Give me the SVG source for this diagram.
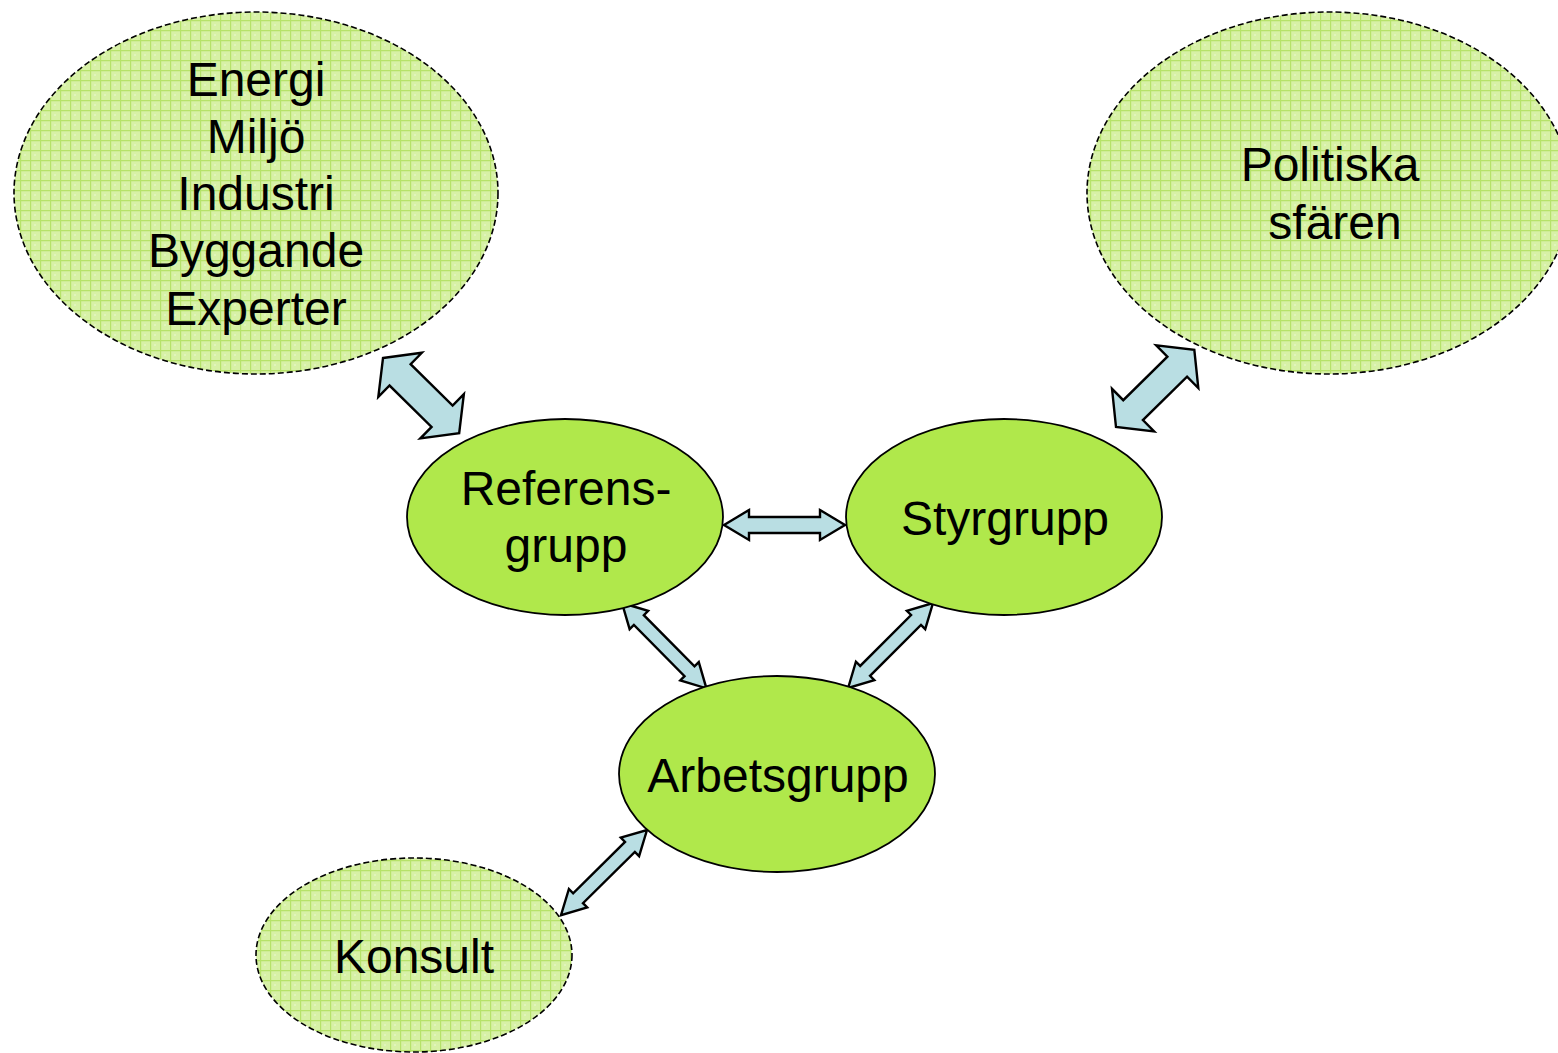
<svg xmlns="http://www.w3.org/2000/svg" width="1558" height="1053" viewBox="0 0 1558 1053">
<defs>
<pattern id="grid" width="10" height="10" patternUnits="userSpaceOnUse">
<rect width="10" height="10" fill="#d7f1a6"/>
<path d="M0 0.5H10M0.5 0V10" stroke="#b6e26a" stroke-width="1.4"/>
<circle cx="5" cy="5" r="1" fill="#e4f6c2"/>
</pattern>
<style>
.soft{fill:url(#grid);stroke:#000;stroke-width:1.6;stroke-dasharray:6 3}
.solid{fill:#b0e84b;stroke:#000;stroke-width:1.8}
.lbl{font-family:"Liberation Sans",Arial,sans-serif;font-size:48px;fill:#000;text-anchor:middle}
.arr{fill:#b9dee3;stroke:#000;stroke-width:2.4;stroke-linejoin:miter}
</style>
</defs>
<rect width="1558" height="1053" fill="#fff"/>
<g id="connectors">
<polygon class="arr" transform="translate(383,358) rotate(44.6)" points="0,0 24,-31 24,-15 83,-15 83,-31 107,0 83,31 83,15 24,15 24,31"/>
<polygon class="arr" transform="translate(1116,427) rotate(-44.6)" points="0,0 24,-30 24,-14 86,-14 86,-30 110,0 86,30 86,14 24,14 24,30"/>
<polygon class="arr" transform="translate(724,525)" points="0,0 25,-15 25,-8 96,-8 96,-15 121,0 96,15 96,8 25,8 25,15"/>
<polygon class="arr" transform="translate(622,603) rotate(45.3)" points="0,0 24,-13 24,-7 96,-7 96,-13 120,0 96,13 96,7 24,7 24,13"/>
<polygon class="arr" transform="translate(933,603) rotate(135)" points="0,0 24,-13 24,-7 96,-7 96,-13 120,0 96,13 96,7 24,7 24,13"/>
<polygon class="arr" transform="translate(647,830) rotate(135.3)" points="0,0 24,-13 24,-7 97,-7 97,-13 121,0 97,13 97,7 24,7 24,13"/>
</g>
<g id="experter">
<ellipse class="soft" cx="256" cy="193" rx="242" ry="181"/>
<text class="lbl" x="256" y="96">Energi</text>
<text class="lbl" x="256" y="153">Miljö</text>
<text class="lbl" x="256" y="210">Industri</text>
<text class="lbl" x="256" y="267">Byggande</text>
<text class="lbl" x="256" y="325">Experter</text>
</g>
<g id="politiska">
<ellipse class="soft" cx="1329" cy="193" rx="242" ry="181"/>
<text class="lbl" x="1330" y="181">Politiska</text>
<text class="lbl" x="1335" y="239">sfären</text>
</g>
<g id="referensgrupp">
<ellipse class="solid" cx="565" cy="517" rx="158" ry="98"/>
<text class="lbl" x="566" y="505">Referens-</text>
<text class="lbl" x="566" y="562">grupp</text>
</g>
<g id="styrgrupp">
<ellipse class="solid" cx="1004" cy="517" rx="158" ry="98"/>
<text class="lbl" x="1005" y="535">Styrgrupp</text>
</g>
<g id="arbetsgrupp">
<ellipse class="solid" cx="777" cy="774" rx="158" ry="98"/>
<text class="lbl" x="778" y="792">Arbetsgrupp</text>
</g>
<g id="konsult">
<ellipse class="soft" cx="414" cy="955" rx="158" ry="97"/>
<text class="lbl" x="414" y="973">Konsult</text>
</g>
</svg>
